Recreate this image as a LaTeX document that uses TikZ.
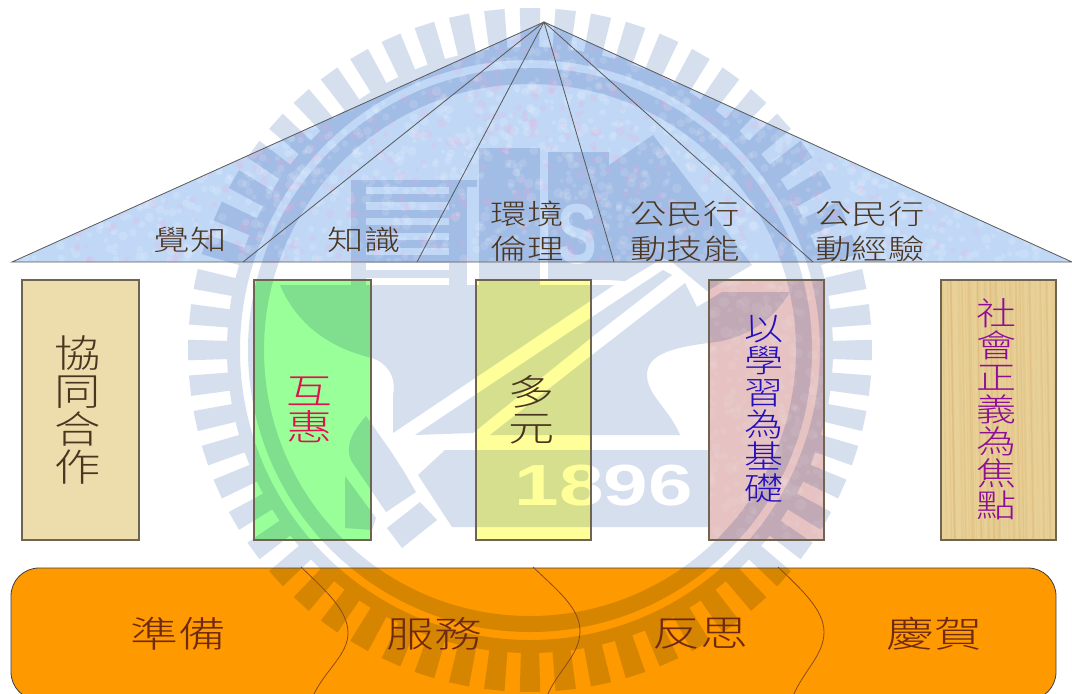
\documentclass[tikz,border=0pt]{standalone}
\usepackage{fontspec}
\newfontfamily\cjk{Noto Sans CJK TC Light}
\newfontfamily\wmfont{Liberation Sans}
\definecolor{wm}{HTML}{D6DFEE}
\definecolor{skyfill}{HTML}{C0D8F6}
\definecolor{tanfill}{HTML}{EDDCAC}
\definecolor{grn}{HTML}{99FF99}
\definecolor{yel}{HTML}{FFFF99}
\definecolor{rosefill}{HTML}{E6C2C2}
\definecolor{woodfill}{HTML}{E8D198}
\definecolor{orng}{HTML}{FF9900}
\definecolor{edgeline}{HTML}{6E6450}
\definecolor{basetext}{HTML}{6E2A10}
\definecolor{chevline}{HTML}{8A4A20}
\definecolor{rooftext}{HTML}{4A3520}
\tikzset{
  wmshape/.style={fill=wm,draw=none},
  boxfill/.style={blend mode=multiply,draw=none},
  boxedge/.style={draw=edgeline,line width=1.1pt},
  ray/.style={draw=black!65,line width=0.8pt},
  chev/.style={draw=chevline,line width=0.8pt},
  roofl/.style={font=\cjk\fontsize{28}{35}\selectfont,text=rooftext,align=center,xscale=1.3,inner sep=0pt},
  pillar/.style={font=\cjk\fontsize{#1}{#1}\selectfont,align=center,inner sep=0pt},
  base/.style={font=\cjk\fontsize{36}{36}\selectfont,text=basetext,xscale=1.33,inner sep=0pt}
}
\begin{document}
\begin{tikzpicture}[x=1pt,y=-1pt]
\useasboundingbox (0,0) rectangle (1072,694);
\clip (0,0) rectangle (1072,694);
\fill[white] (0,0) rectangle (1072,694);
% ---- watermark
\begin{scope}[shift={(530,350)}]
  \foreach \a in {0,6,...,354}
    \fill[wm] (\a-1.72:342) -- (\a+1.72:342) -- (\a+1.72:300) -- (\a-1.72:300) -- cycle;
  \fill[wm,even odd rule] (0,0) circle[radius=303] (0,0) circle[radius=290];
  \fill[wm,even odd rule] (0,0) circle[radius=282] (0,0) circle[radius=266];
\end{scope}
% building at left
\fill[wmshape] (351,180) rectangle (477,187);
\fill[wmshape] (351,180) rectangle (366,286);
\fill[wmshape] (449,180) rectangle (467,290);
\foreach \yy in {194,210,225,240,255,270}
  \fill[wmshape] (366,\yy) rectangle (449,\yy+7.5);
% central columns
\fill[wmshape] (479,148) rectangle (540,286);
\fill[wmshape] (548,152) rectangle (609,280);
\node[text=white,font=\wmfont\bfseries\fontsize{85}{85}\selectfont,xscale=0.7,inner sep=0pt] (wmS) at (577,234) {S};
% roof
\fill[wmshape] (609,165) -- (653,135) -- (752,265) -- (707,291) -- (672,262) -- (663,258) -- (625,281) -- (609,280) -- cycle;
% main body
\fill[wmshape] (280,285) -- (614,285) -- (393,433) -- (393,395)
  .. controls (397,375) and (385,362) .. (372,358)
  .. controls (330,348) and (297,325) .. (280,285) -- cycle;
\fill[wmshape] (415,435) -- (473,433) -- (592,337) -- (672,275) -- (663,270) -- (592,317) -- cycle;
\fill[wmshape] (490,435) -- (592,355) -- (685,283) -- (697,307) -- (722,292) -- (790,292)
  .. controls (770,325) and (740,340) .. (708,343)
  .. controls (670,348) and (647,355) .. (647,375)
  .. controls (647,395) and (670,410) .. (680,435) -- cycle;
\fill[wmshape] (418,475) -- (445,450) -- (708,450) -- (708,527) -- (452,527) -- cycle;
\node[text=white,font=\wmfont\bfseries\fontsize{58}{58}\selectfont,xscale=1.38,inner sep=0pt] (wmY) at (604,486) {1896};
\fill[wmshape] (387,528) -- (420,502) -- (437,520) -- (402,548) -- cycle;
\fill[wmshape] (366,416) .. controls (352,432) and (344,447) .. (352,462) -- (386,512) -- (416,492) -- (403,470) -- (390,450) -- cycle;
\fill[wmshape] (345,476) -- (345,528) -- (372,530) -- (376,518) -- cycle;
% ---- triangle
\fill[boxfill,fill=skyfill] (544,22) -- (1072,262) -- (12,262) -- cycle;
\begin{scope}
  \clip (544,22) -- (1072,262) -- (12,262) -- cycle;
  \pgfmathsetseed{7}
  \foreach \i in {1,...,2600} {
    \pgfmathsetmacro\px{12+1060*rnd}
    \pgfmathsetmacro\py{22+240*rnd}
    \pgfmathsetmacro\pr{2+3*rnd}
    \pgfmathsetmacro\pk{rnd}
    \ifdim\pk pt<0.3pt
      \fill[magenta!35,opacity=0.16] (\px,\py) circle[radius=\pr];
    \else
      \fill[white,opacity=0.13] (\px,\py) circle[radius=\pr];
    \fi
  }
\end{scope}
\draw[ray] (544,22) -- (1072,262) -- (12,262) -- cycle;
\coordinate (apex) at (544,22);
\foreach \bx in {243,417,614,813} { \coordinate (foot) at (\bx,262); \draw[ray] (apex) -- (foot); }
\node[roofl] (l1) at (190,240) {覺知};
\node[roofl] (l2) at (364,240) {知識};
\node[roofl] (l3) at (527,231) {環境\\倫理};
\node[roofl] (l4) at (685,231) {公民行\\動技能};
\node[roofl] (l5) at (870,231) {公民行\\動經驗};
% ---- pillars
\fill[boxfill,fill=tanfill] (22,280) rectangle (139,540);
\fill[boxfill,fill=grn] (254,280) rectangle (371,540);
\fill[boxfill,fill=yel] (476,280) rectangle (591,540);
\fill[boxfill,fill=rosefill] (709,280) rectangle (824,540);
\fill[boxfill,fill=woodfill] (941,280) rectangle (1056,540);
\begin{scope}
  \clip (709,280) rectangle (824,540);
  \pgfmathsetseed{11}
  \foreach \i in {1,...,260} {
    \pgfmathsetmacro\px{709+115*rnd}
    \pgfmathsetmacro\py{280+260*rnd}
    \pgfmathsetmacro\pr{2+4*rnd}
    \fill[white,opacity=0.07] (\px,\py) circle[radius=\pr];
  }
\end{scope}
\begin{scope}
  \clip (941,280) rectangle (1056,540);
  \pgfmathsetseed{5}
  \foreach \i in {1,...,70} {
    \pgfmathsetmacro\px{941+115*rnd}
    \pgfmathsetmacro\pw{0.6+1.6*rnd}
    \draw[brown!80!orange,opacity=0.07,line width=\pw pt] (\px,280) -- (\px+4,540);
  }
\end{scope}
\draw[boxedge] (22,280) rectangle (139,540);
\draw[boxedge] (254,280) rectangle (371,540);
\draw[boxedge] (476,280) rectangle (591,540);
\draw[boxedge] (709,280) rectangle (824,540);
\draw[boxedge] (941,280) rectangle (1056,540);
\node[pillar=38,text=rooftext,xscale=1.22] (p1) at (78,410) {協\\同\\合\\作};
\node[pillar=36,text={rgb,255:red,225;green,15;blue,80},xscale=1.28] (p2) at (310,410) {互\\惠};
\node[pillar=36,text=rooftext,xscale=1.28] (p3) at (532,410) {多\\元};
\node[pillar=32,text={rgb,255:red,35;green,15;blue,190},xscale=1.22] (p4) at (764,409) {以\\學\\習\\為\\基\\礎};
\node[pillar=32,text={rgb,255:red,140;green,15;blue,150},xscale=1.25] (p5) at (996,409) {社\\會\\正\\義\\為\\焦\\點};
% ---- process bar
\fill[boxfill,fill=orng,rounded corners=28pt] (11,568) rectangle (1056,700);
\draw[draw=black!75,line width=0.8pt,rounded corners=28pt] (11,568) rectangle (1056,700);
\coordinate (c1a) at (301,567); \coordinate (c1b) at (348,633); \coordinate (c1c) at (313,696);
\coordinate (c2a) at (533,567); \coordinate (c2b) at (580,631); \coordinate (c2c) at (547,696);
\coordinate (c3a) at (778,567); \coordinate (c3b) at (824,632); \coordinate (c3c) at (793,696);
\draw[chev] (c1a) .. controls (325,590) and (348,610) .. (c1b) .. controls (348,655) and (325,670) .. (c1c);
\draw[chev] (c2a) .. controls (557,590) and (580,608) .. (c2b) .. controls (580,655) and (558,670) .. (c2c);
\draw[chev] (c3a) .. controls (802,590) and (824,610) .. (c3b) .. controls (824,655) and (804,670) .. (c3c);
\node[base] (b1) at (178,634) {準備};
\node[base] (b2) at (434,634) {服務};
\node[base] (b3) at (700,634) {反思};
\node[base] (b4) at (934,634) {慶賀};
\end{tikzpicture}
\end{document}
